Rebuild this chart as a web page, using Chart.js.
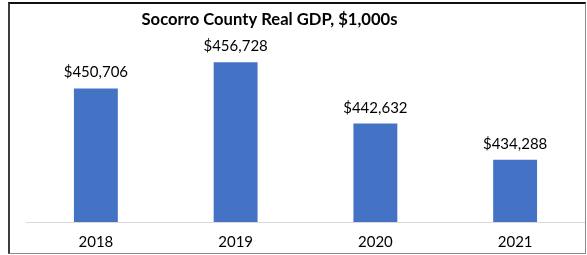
<!DOCTYPE html>
<html>
<head>
<meta charset="utf-8">
<script src="https://cdn.jsdelivr.net/npm/chart.js@4"></script>
<style>
  body { margin: 0; background: #fff; overflow: hidden; }
  #wrap { position: relative; width: 587px; height: 255px; overflow: hidden; }
  #gdp-chart { position: absolute; left: 0; top: 0; }
  #frame {
    position: absolute; left: 8px; top: 2px; width: 575px; height: 249px;
    border-left: 2px solid #3c3c3c; border-top: 2px solid #111;
    border-right: 1px solid #8a8a8a; border-bottom: 1px solid #8a8a8a;
    pointer-events: none;
  }
</style>
</head>
<body>
<div id="wrap">
  <!-- canvas a bit taller than the frame so the axis sits where Excel put it -->
  <canvas id="gdp-chart" width="587" height="262"></canvas>
  <div id="frame"></div>
</div>
<script>
const title_text = 'Socorro County Real GDP, $1,000s';
const years = ['2018', '2019', '2020', '2021'];
const gdp_values = [450706, 456728, 442632, 434288];

// title + value labels drawn by hand, Excel style
const labels_plugin = {
  id: 'labels_plugin',
  afterDatasetsDraw(chart) {
    const ctx = chart.ctx;
    ctx.save();
    ctx.fillStyle = '#000';
    ctx.textAlign = 'center';
    ctx.textBaseline = 'alphabetic';
    ctx.font = 'bold 17px Lato';
    ctx.fillText(title_text, 269.5, 25, 256);

    ctx.font = '15px Lato';
    chart.getDatasetMeta(0).data.forEach((bar, i) => {
      ctx.fillText('$' + gdp_values[i].toLocaleString('en-US'), bar.x, bar.y - 11);
    });
    ctx.restore();
  }
};

new Chart(document.getElementById('gdp-chart'), {
  type: 'bar',
  data: {
    labels: years,
    datasets: [
      {
        label: 'Real GDP',
        data: gdp_values,
        backgroundColor: '#4472C4',
        barPercentage: 0.314,
        categoryPercentage: 1,
      },
    ],
  },
  options: {
    responsive: false,
    animation: false,
    layout: { padding: { left: 26, right: 2, top: 48, bottom: 0 } },
    plugins: {
      legend: { display: false },
      tooltip: { enabled: false },
    },
    scales: {
      x: {
        grid: { display: true, drawOnChartArea: false, drawTicks: false, tickLength: 0 },
        border: { color: '#d9d9d9', width: 1 },
        ticks: { color: '#000', font: { family: 'Lato', size: 15 }, padding: 11 },
      },
      y: {
        display: false,
        min: 420000,
        max: 460000,
      },
    },
  },
  plugins: [labels_plugin],
});
</script>
</body>
</html>
